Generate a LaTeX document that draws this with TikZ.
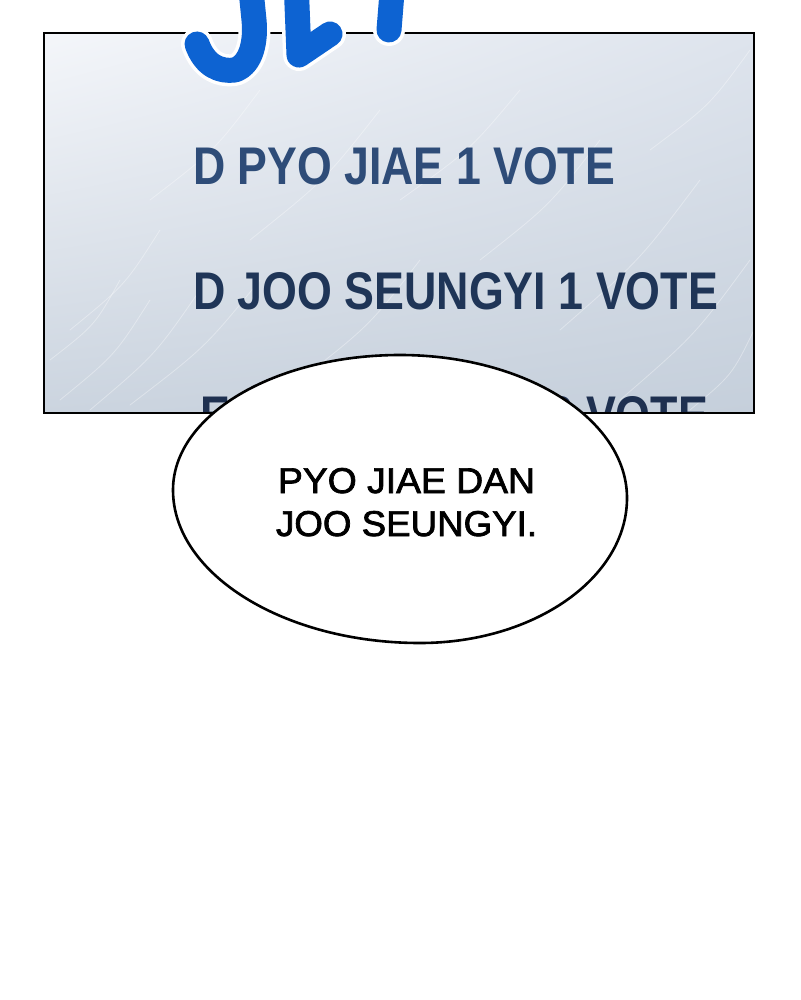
\documentclass[tikz,border=0pt]{standalone}
\usepackage{graphicx}
\usepackage{fontspec}
\usetikzlibrary{shadings}
\newfontfamily\boardfont{Liberation Sans}
\newfontfamily\bubblefont[FakeBold=2]{Liberation Sans}
\newcommand\boardsize{\boardfont\bfseries\fontsize{53}{53}\selectfont}
\newsavebox\boxA
\newsavebox\boxB
\sbox\boxA{\boardsize D PYO JIAE 1 VOTE}
\sbox\boxB{\boardsize D JOO SEUNGYI 1 VOTE}
\definecolor{navyA}{HTML}{2E4C78}
\definecolor{navyB}{HTML}{1F3557}
\definecolor{navyC}{HTML}{1E3050}
\definecolor{setblue}{HTML}{0D63D2}
\definecolor{pTL}{HTML}{F4F6FA}
\definecolor{pTR}{HTML}{DEE4ED}
\definecolor{pBL}{HTML}{CBD4DF}
\definecolor{pBR}{HTML}{C5CFDB}
\tikzset{
  boardtxt/.style={anchor=base west, inner sep=0pt, outer sep=0pt},
  bubbletxt/.style={anchor=base west, inner sep=0pt, outer sep=0pt, text=black},
  streak/.style={white, opacity=0.35, line width=0.8pt, line cap=round},
  letterout/.style={white, line width=32pt, line cap=round, line join=round},
  letterin/.style={setblue, line width=25pt, line cap=round, line join=round}
}
\begin{document}
\begin{tikzpicture}[x=1pt,y=-1pt]
\useasboundingbox (0,0) rectangle (800,1000);
\fill[white] (0,0) rectangle (800,1000);
% panel
\shade[upper left=pTL, upper right=pTR, lower left=pBL, lower right=pBR] (44,33) rectangle (754,413);
\begin{scope}
\clip (44,33) rectangle (754,413);
\foreach \a/\b/\c/\d in {60/400/150/300, 50/360/120/280, 90/410/200/290, 70/330/160/230,
  130/405/260/280, 400/200/520/90, 560/330/700/180, 620/400/750/260, 480/260/600/140,
  250/240/380/110, 650/150/750/50, 300/380/420/260, 150/200/260/90, 690/410/754/330}
  \draw[streak] (\a,\b) .. controls ({(\a+\c)/2+10},{(\b+\d)/2+5}) .. (\c,\d);
\pgfmathsetmacro\kA{422/\the\wd\boxA}
\pgfmathsetmacro\kB{525/\the\wd\boxB}
\node[boardtxt, text=navyA] (line1) at (193,185) {\scalebox{\kA}[1]{\boardsize D PYO JIAE 1 VOTE}};
\node[boardtxt, text=navyB] (line2) at (193,309) {\scalebox{\kB}[1]{\boardsize D JOO SEUNGYI 1 VOTE}};
\node[boardtxt, text=navyC] (line3a) at (200,433) {\scalebox{\kB}[1]{\boardsize E}};
\node[boardtxt, anchor=base east, text=navyC] (line3b) at (708,433) {\scalebox{\kB}[1]{\boardsize 2 VOTE}};
\end{scope}
\draw[line width=2.6pt] (44,33) rectangle (754,413);
% blue SET letters (lower parts)
\foreach \s in {letterout, letterin}{
  \draw[\s] (197,44) .. controls (205,66) and (220,72) .. (235,70)
            .. controls (252,64) and (256,40) .. (254,20) -- (250,-20);
  \draw[\s] (296,-20) -- (299,55) -- (330,34);
  \draw[\s] (393,-20) -- (389,30);
}
% speech bubble
\draw[line width=2.6pt, fill=white] (400,355)
  .. controls (525,355) and (627,419) .. (627,498)
  .. controls (627,578) and (534,643) .. (420,643)
  .. controls (284,643) and (173,574) .. (173,490)
  .. controls (173,415) and (275,355) .. (400,355) -- cycle;
\node[bubbletxt] (say1) at (278,493) {\resizebox{257pt}{25pt}{\bubblefont PYO JIAE DAN}};
\node[bubbletxt] (say2) at (276,536) {\resizebox{261pt}{25pt}{\bubblefont JOO SEUNGYI.}};
\end{tikzpicture}
\end{document}
